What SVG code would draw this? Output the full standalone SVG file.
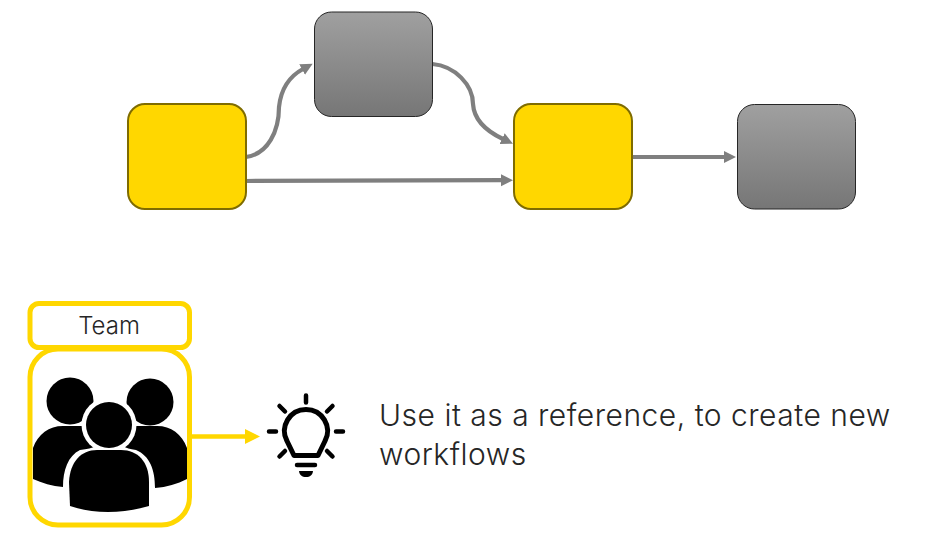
<svg xmlns="http://www.w3.org/2000/svg" width="927" height="535" viewBox="0 0 927 535">
<style>
.y{fill:#ffd700;stroke:#7f6c00;stroke-width:2}
.g{fill:url(#gr);stroke:#262626;stroke-width:1}
.c{fill:none;stroke:#7f7f7f;stroke-width:4.200}
.t{fill:#fff;stroke:#ffd700;stroke-width:5}
.b{fill:none;stroke:#000;stroke-width:4.500;stroke-linecap:round}
text{font-family:"Inter","Liberation Sans",sans-serif;font-weight:300;fill:#262626}
</style>
<defs>
<linearGradient id="gr" x1="0" y1="0" x2="0" y2="1"><stop offset="0" stop-color="#a0a0a0"/><stop offset="1" stop-color="#767676"/></linearGradient>
<marker id="a" markerUnits="userSpaceOnUse" markerWidth="13" markerHeight="13" refX="1" refY="6.500" orient="auto"><path d="M0 0.500L12 6.500L0 12.500z" fill="#7f7f7f"/></marker>
<marker id="ya" markerUnits="userSpaceOnUse" markerWidth="16" markerHeight="16" refX="1" refY="8" orient="auto"><path d="M0 0.500L15 8L0 15.500z" fill="#ffd700"/></marker>
</defs>
<g id="connectors">
<path class="c" marker-end="url(#a)" d="M246 157C268 154 279 131 279 107C281 88 290 76 303 69"/>
<path class="c" marker-end="url(#a)" d="M432.500 64C455 66 473 85 473 104C474 120 486 131 503 139"/>
<path class="c" marker-end="url(#a)" d="M246 181L502 180.200"/>
<path class="c" marker-end="url(#a)" d="M632 157H725"/>
<path fill="none" stroke="#ffd700" stroke-width="4.500" marker-end="url(#ya)" d="M190 436.500H246"/>
</g>
<g id="node-yellow-1"><rect class="y" x="128" y="104" width="118" height="105" rx="17"/></g>
<g id="node-gray-1"><rect class="g" x="314.500" y="12" width="118" height="104.500" rx="17"/></g>
<g id="node-yellow-2"><rect class="y" x="514" y="104" width="118" height="105" rx="17"/></g>
<g id="node-gray-2"><rect class="g" x="737.500" y="104.500" width="118" height="104.500" rx="17"/></g>
<g id="team-label"><rect class="t" x="30" y="303.500" width="159.500" height="44" rx="9"/><text x="109" y="334" font-size="24" text-anchor="middle">Team</text></g>
<g id="team">
<rect class="t" x="30" y="349" width="159.500" height="176" rx="28"/>
<circle cx="70" cy="401" r="23.500"/>
<circle cx="150" cy="402" r="23.500"/>
<path d="M33 479V448C38 434 49 426 63 426H90C98 440 110 446 80 450C68 456 63 470 63 487C52 486 42 483 33 479z"/>
<path d="M187 479V448C182 434 171 426 157 426H128C122 440 112 446 136 450C150 456 155 470 155 488C167 487 177 484 187 479z"/>
<circle cx="109" cy="425" r="27.500" fill="#fff"/>
<circle cx="109" cy="425" r="23"/>
<path d="M69 482C70 462 81 450 97 450H121C138 450 149 462 149 482V506C135 510 122 512 108 512C94 512 82 510 70 506z"/>
</g>
<g id="bulb">
<path d="M294 455.500L287 441A21.500 21.500 0 1 1 325 441L318 455.500z" fill="none" stroke="#000" stroke-width="5" stroke-linejoin="round"/>
<path class="b" d="M306 395.500V402.500M279.500 406L285 411.500M332.500 406L327 411.500M269 431.500H276M336 431.500H343M279.500 456.500L285 451M332.500 456.500L327 451M297 465H315"/>
<path d="M299 471H313C312.500 475 310 477 306 477C302 477 299.500 475 299 471z"/>
</g>
<text x="379" y="426" font-size="30" letter-spacing="0.500">Use it as a reference, to create new</text>
<text x="379" y="465" font-size="30" letter-spacing="0.500">workflows</text>
</svg>
